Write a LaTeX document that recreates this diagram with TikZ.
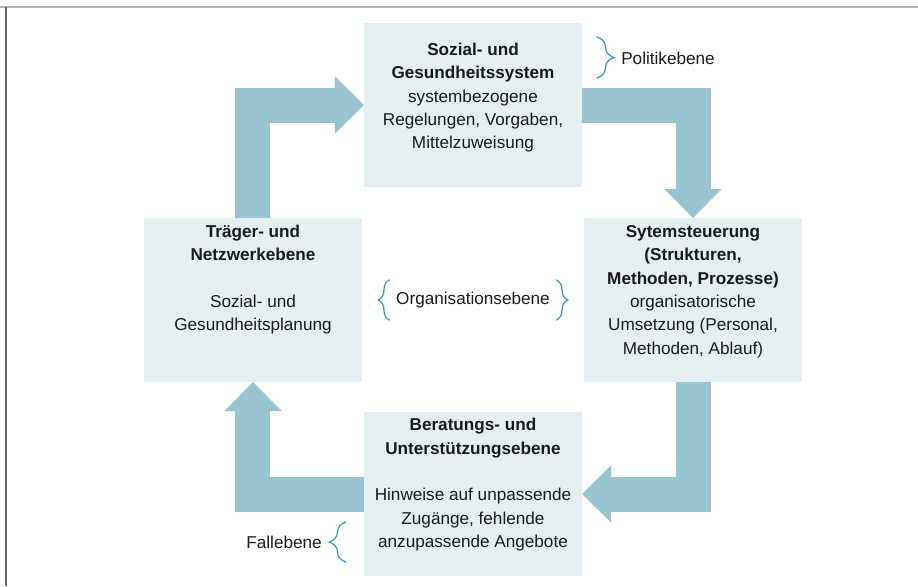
\documentclass[tikz,border=0pt]{standalone}
\usepackage{fontspec}
\setmainfont{Liberation Sans}
\usepackage{tikz}
\usetikzlibrary{calc}
\usetikzlibrary{decorations.pathreplacing}
\definecolor{boxFill}{HTML}{E5EFF2}
\definecolor{flowBlue}{HTML}{97C4CF}
\definecolor{braceTeal}{HTML}{3A9EB0}
\definecolor{textDark}{HTML}{1A1A1A}
\tikzstyle{levelbox} = [fill=boxFill, minimum width=5.45cm, minimum height=4.1cm, inner sep=0pt, outer sep=0pt]
\tikzstyle{boxtext} = [align=center, text=textDark, inner sep=0pt, font=\fontsize{12.2}{16.6}\selectfont]
\tikzstyle{levellabel} = [text=textDark, inner sep=0pt, font=\fontsize{12.2}{16.6}\selectfont]
\tikzstyle{flow} = [draw=flowBlue, line width=0.875cm, line join=miter]
\tikzstyle{flowhead} = [fill=flowBlue]
\tikzstyle{bracket} = [draw=braceTeal, line width=0.9pt, line cap=round, decorate, decoration={brace, amplitude=0.425cm}]
\tikzstyle{frameTop} = [draw=black!30, line width=0.05cm]
\tikzstyle{frameLeft} = [draw=black!60, line width=0.045cm]

\begin{document}
\begin{tikzpicture}
\useasboundingbox (-11.825,-7.15) rectangle (11.125,7.5);
\draw[frameTop] (-11.825,7.325) -- (11.125,7.325);
\draw[frameLeft] (-11.675,7.325) -- (-11.675,-7.15);

\node[levellabel] (orga) at (0,0) {Organisationsebene};
\node[levelbox] (policy) at ($(orga)+(0,4.875)$) {};
\node[levelbox] (network) at ($(orga)+(-5.5,0)$) {};
\node[levelbox] (control) at ($(orga)+(5.5,0)$) {};
\node[levelbox] (counsel) at ($(orga)+(0,-4.85)$) {};

\node[boxtext] (policy_text) at ($(policy)+(0,0.185)$) {\textbf{Sozial- und}\\\textbf{Gesundheitssystem}\\systembezogene\\Regelungen, Vorgaben,\\Mittelzuweisung};
\node[boxtext] (network_text) at ($(network)+(0,0.51)$) {\textbf{Träger- und}\\\textbf{Netzwerkebene}\\[16.6pt]Sozial- und\\Gesundheitsplanung};
\node[boxtext] (control_text) at ($(control)+(0,0.21)$) {\textbf{Sytemsteuerung}\\\textbf{(Strukturen,}\\\textbf{Methoden, Prozesse)}\\organisatorische\\Umsetzung (Personal,\\Methoden, Ablauf)};
\node[boxtext] (counsel_text) at ($(counsel)+(0,0.235)$) {\textbf{Beratungs- und}\\\textbf{Unterstützungsebene}\\[16.6pt]Hinweise auf unpassende\\Zugänge, fehlende\\anzupassende Angebote};

\draw[flow] (network.north) |- ($(policy.west)+(-0.725,0)$);
\fill[flowhead] (policy.west) -- ++(-0.725,0.7125) -- ++(0,-1.425) -- cycle;
\draw[flow] (policy.east) -| ($(control.north)+(0,0.725)$);
\fill[flowhead] (control.north) -- ++(-0.7125,0.725) -- ++(1.425,0) -- cycle;
\draw[flow] (control.south) |- ($(counsel.east)+(0.725,0)$);
\fill[flowhead] (counsel.east) -- ++(0.725,0.7125) -- ++(0,-1.425) -- cycle;
\draw[flow] (counsel.west) -| ($(network.south)+(0,-0.725)$);
\fill[flowhead] (network.south) -- ++(-0.7125,-0.725) -- ++(1.425,0) -- cycle;

\node[levellabel, anchor=west] (politik) at ($(policy.north east)+(0.975,-0.875)$) {Politikebene};
\node[levellabel, anchor=east] (fall) at ($(counsel.south west)+(-1.05,0.85)$) {Fallebene};
\draw[bracket] ($(politik.west)+(-0.6,0.525)$) -- ($(politik.west)+(-0.6,-0.5)$);
\draw[bracket] ($(fall.east)+(0.6,-0.5)$) -- ($(fall.east)+(0.6,0.5)$);
\draw[bracket, decoration={brace, amplitude=0.28cm}] ($(orga.west)+(-0.16,-0.5)$) -- ($(orga.west)+(-0.16,0.5)$);
\draw[bracket, decoration={brace, amplitude=0.28cm}] ($(orga.east)+(0.16,0.5)$) -- ($(orga.east)+(0.16,-0.5)$);
\end{tikzpicture}
\end{document}
